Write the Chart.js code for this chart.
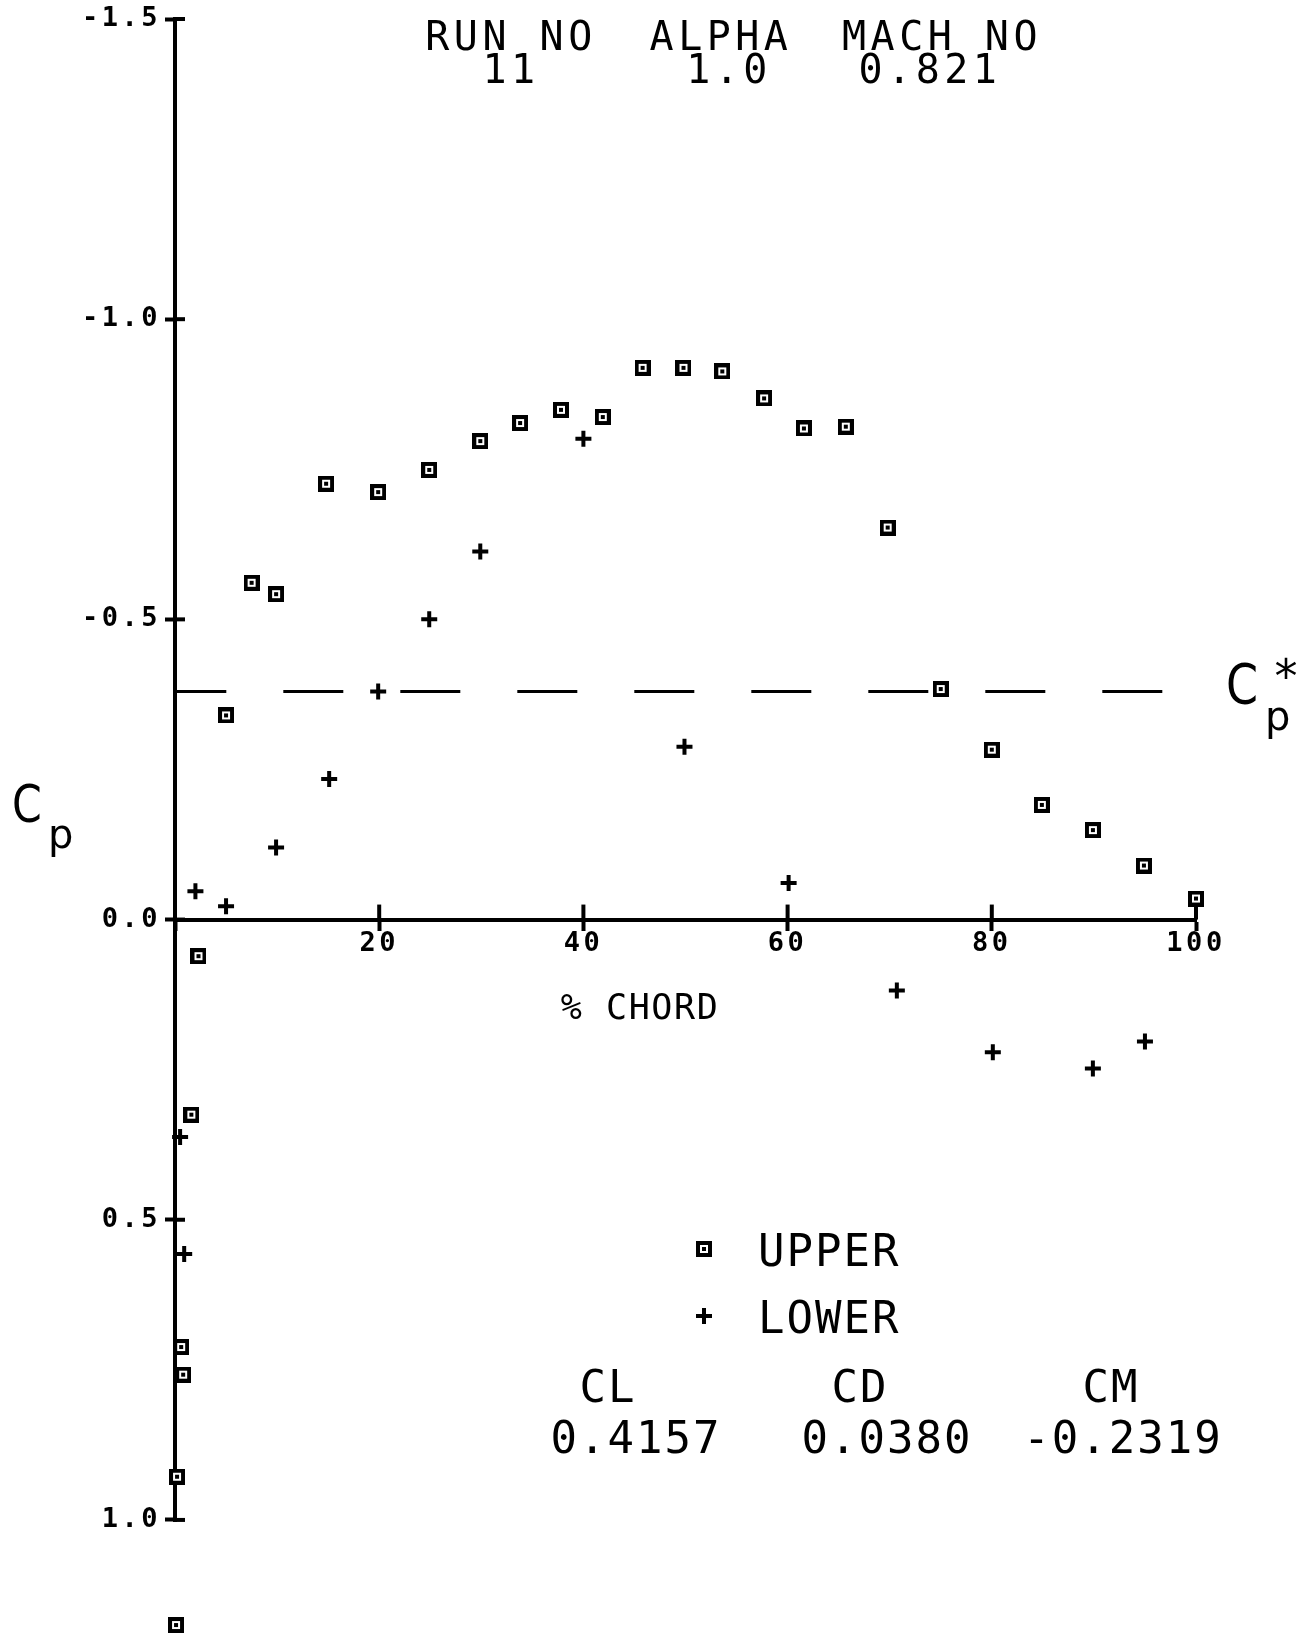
<!DOCTYPE html>
<html><head><meta charset="utf-8">
<script src="https://cdn.jsdelivr.net/npm/chart.js@4/dist/chart.umd.min.js"></script>
<style>html,body{margin:0;padding:0;background:#fff}#wrap{width:1315px;height:1634px;position:relative}</style>
</head><body><div id="wrap"><canvas id="c" width="1315" height="1634"></canvas></div>
<script>
// ---- data ----
const upperChord = [0.1, 0.2, 0.6, 0.8, 1.6, 2.3, 5.0, 7.5, 9.9, 14.8, 19.9, 24.9, 29.9, 33.8, 37.8, 41.9, 45.8, 49.8, 53.6, 57.7, 61.6, 65.7, 69.8, 75.0, 80.0, 84.9, 89.9, 94.9, 100];
const upperCp = [1.175, 0.928, 0.712, 0.758, 0.325, 0.061, -0.340, -0.561, -0.542, -0.726, -0.712, -0.749, -0.797, -0.827, -0.849, -0.837, -0.919, -0.919, -0.913, -0.868, -0.818, -0.821, -0.653, -0.384, -0.283, -0.191, -0.149, -0.090, -0.035];
const lowerChord = [0.5, 0.9, 2.0, 5.0, 9.9, 15.1, 19.9, 24.9, 29.9, 40.0, 49.9, 60.1, 70.7, 80.1, 89.9, 95.0];
const lowerCp = [0.362, 0.557, -0.047, -0.022, -0.120, -0.234, -0.380, -0.500, -0.613, -0.801, -0.288, -0.061, 0.118, 0.221, 0.248, 0.203];
const cpStarChord = [96.7, 0];
const cpStarCp = [-0.38, -0.38];
const xTicks = [0, 20, 40, 60, 80, 100];
const yTicks = [-1.5, -1.0, -0.5, 0.0, 0.5, 1.0];
const yRange = [-1.5, 1.17];
const headerLabels = ['RUN NO', 'ALPHA', 'MACH NO'];
const headerValues = ['11', '1.0', '0.821'];
const coefLabels = ['CL', 'CD', 'CM'];
const coefValues = ['0.4157', '0.0380', '-0.2319'];
const seriesNames = ['UPPER', 'LOWER'];
const xTitle = '% CHORD';

// ---- marker ----
function squareMarker() {
  const c = document.createElement('canvas');
  c.width = 16; c.height = 16;
  const g = c.getContext('2d');
  g.fillStyle = '#000'; g.fillRect(0, 0, 16, 16);
  g.fillStyle = '#fff'; g.fillRect(4, 4, 8, 8);
  g.fillStyle = '#000'; g.fillRect(6, 6, 4, 4);
  return c;
}
const sq = squareMarker();

const toPts = (xs, ys) => xs.map((x, i) => ({x: x, y: ys[i]}));

function txt(ctx, s, x, y, size, opts) {
  opts = opts || {};
  ctx.save();
  ctx.font = (opts.weight || 'normal') + ' ' + size + 'px ' + (opts.family || '"DejaVu Sans Mono"');
  ctx.letterSpacing = (opts.ls || 0) + 'px';
  ctx.textAlign = opts.align || 'center';
  ctx.textBaseline = 'alphabetic';
  ctx.fillStyle = '#000';
  ctx.translate(x, y);
  if (opts.sx) ctx.scale(opts.sx, 1);
  ctx.fillText(s, 0, 0);
  ctx.restore();
}

const decor = {
  id: 'decor',
  beforeDraw(chart) { chart.ctx.letterSpacing = '3.5px'; },
  beforeDatasetsDraw(chart) {
    const ctx = chart.ctx;
    ctx.letterSpacing = '0px';
    const xs = chart.scales.x, ys = chart.scales.y;
    const x0 = xs.getPixelForValue(0), y0 = ys.getPixelForValue(0);
    ctx.save();
    ctx.strokeStyle = '#000'; ctx.lineWidth = 4;
    // y axis line, from first to last tick
    ctx.beginPath();
    ctx.moveTo(x0, ys.getPixelForValue(yTicks[0]) - 2);
    ctx.lineTo(x0, ys.getPixelForValue(yTicks[yTicks.length - 1]) + 2);
    ctx.stroke();
    yTicks.forEach(v => { const py = ys.getPixelForValue(v); ctx.beginPath(); ctx.moveTo(x0, py); ctx.lineTo(x0 + 10, py); ctx.stroke(); });
    xTicks.forEach(v => { if (v === 0) return; const px = xs.getPixelForValue(v); ctx.beginPath(); ctx.moveTo(px, y0); ctx.lineTo(px, y0 - 15); ctx.stroke(); });
    ctx.restore();
  },
  afterDraw(chart) {
    const ctx = chart.ctx;
    // header
    const hx = [511, 721, 942];
    const vx = [511, 729, 930];
    headerLabels.forEach((s, i) => txt(ctx, s, hx[i], 50, 40, {ls: 4.5}));
    headerValues.forEach((s, i) => txt(ctx, s, vx[i], 83, 40, {ls: 4.5}));
    // x title
    txt(ctx, xTitle, 640, 1019, 35, {ls: 1.6});
    // Cp axis label
    txt(ctx, 'C', 12, 822, 52, {family: '"DejaVu Sans"', align: 'left', sx: 0.82});
    txt(ctx, 'p', 48, 848, 40, {family: '"DejaVu Sans"', align: 'left'});
    // Cp* label
    txt(ctx, 'C', 1226, 703, 56, {family: '"DejaVu Sans"', align: 'left', sx: 0.82});
    txt(ctx, '*', 1286, 692, 46, {family: '"DejaVu Sans"', align: 'center'});
    txt(ctx, 'p', 1265, 730, 40, {family: '"DejaVu Sans"', align: 'left'});
    // legend
    const ly = [1249, 1316];
    chart.data.datasets.slice(0, 2).forEach((ds, i) => {
      ctx.save();
      ctx.strokeStyle = '#000'; ctx.fillStyle = '#000'; ctx.lineWidth = ds.borderWidth;
      Chart.helpers.drawPoint(ctx, {pointStyle: ds.pointStyle, radius: ds.pointRadius, borderWidth: ds.borderWidth, rotation: 0}, 704, ly[i]);
      ctx.restore();
      txt(ctx, ds.label, 758, ly[i] + 17, 44, {align: 'left', ls: 2});
    });
    // coefficients
    const cx = [608, 860, 1111];
    const cvx = [636, 887, 1123];
    coefLabels.forEach((s, i) => txt(ctx, s, cx[i], 1402, 44, {ls: 2}));
    coefValues.forEach((s, i) => txt(ctx, s, cvx[i], 1453, 44, {ls: 2}));
  }
};

new Chart(document.getElementById('c'), {
  type: 'scatter',
  data: {
    datasets: [
      {label: seriesNames[0], data: toPts(upperChord, upperCp), pointStyle: sq, pointRadius: 8, borderWidth: 0, backgroundColor: '#000', borderColor: '#000', showLine: false, clip: false},
      {label: seriesNames[1], data: toPts(lowerChord, lowerCp), pointStyle: 'cross', pointRadius: 8, borderWidth: 4, borderColor: '#000', backgroundColor: '#000', showLine: false, clip: false},
      {label: 'Cp*', data: toPts(cpStarChord, cpStarCp), showLine: true, pointRadius: 0, borderColor: '#000', borderWidth: 3, borderDash: [60, 57], fill: false, clip: false}
    ]
  },
  options: {
    responsive: false,
    animation: false,
    events: [],
    devicePixelRatio: 1,
    layout: {padding: {left: 0, right: 119, top: 19, bottom: 12}},
    plugins: {legend: {display: false}, tooltip: {enabled: false}, title: {display: false}},
    scales: {
      x: {
        type: 'linear', min: 0, max: 100, position: {y: 0},
        afterBuildTicks(s) { s.ticks = xTicks.map(v => ({value: v})); },
        ticks: {callback: v => (v === 0 ? '' : String(v)), color: '#000', padding: -1, maxRotation: 0, autoSkip: false,
                font: {family: '"DejaVu Sans Mono"', size: 27, weight: 'bold'}},
        grid: {drawOnChartArea: false, drawTicks: true, tickLength: 9, tickWidth: 4, tickColor: '#000'},
        border: {display: true, color: '#000', width: 4},
        afterFit(s) { s.height = 0; s.paddingLeft = 0; s.paddingRight = 0; }
      },
      y: {
        type: 'linear', min: yRange[0], max: yRange[1], reverse: true, position: 'left',
        afterBuildTicks(s) { s.ticks = yTicks.map(v => ({value: v})); },
        ticks: {callback: v => v.toFixed(1), color: '#000', padding: 4,
                font: {family: '"DejaVu Sans Mono"', size: 27, weight: 'bold'}},
        grid: {drawOnChartArea: false, drawTicks: true, tickLength: 10, tickWidth: 4, tickColor: '#000'},
        border: {display: false},
        afterFit(s) { s.width = 175; s.paddingTop = 0; s.paddingBottom = 0; }
      }
    }
  },
  plugins: [decor]
});
</script>
</body></html>
